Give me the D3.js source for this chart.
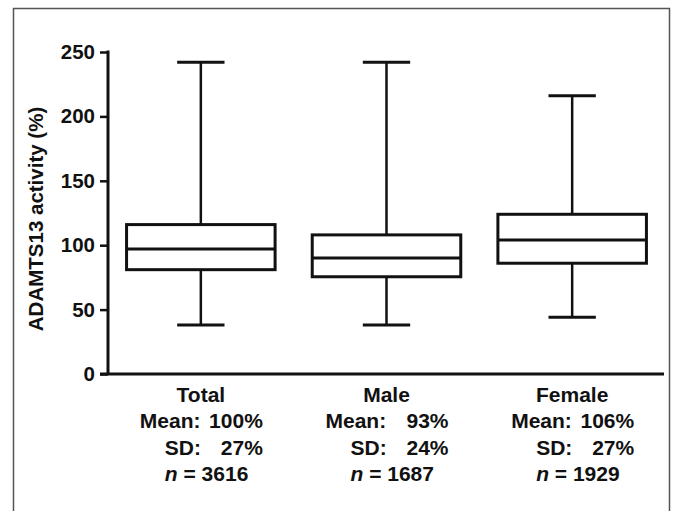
<!DOCTYPE html>
<html>
<head>
<meta charset="utf-8">
<script src="https://cdn.jsdelivr.net/npm/d3@7"></script>
<style>
  html, body { margin: 0; padding: 0; background: #fff; }
  svg { display: block; }
  text { font-family: "Liberation Sans", Arial, Helvetica, sans-serif; font-weight: bold; fill: #111; }
</style>
</head>
<body>
<svg id="chart" width="682" height="511"></svg>
<script>
// ---- data ----
const categories = ["Total", "Male", "Female"];
const whiskerHigh = [242, 242, 216];
const q3Values    = [116, 108, 124];
const medians     = [97, 90, 104];
const q1Values    = [81, 75.5, 86];
const whiskerLow  = [38, 38, 44];
const meanLabels  = ["100%", "93%", "106%"];
const sdLabels    = ["27%", "24%", "27%"];
const nLabels     = ["3616", "1687", "1929"];
const yTicks      = [0, 50, 100, 150, 200, 250];
const yLabel      = "ADAMTS13 activity (%)";

const svg = d3.select("#chart");
const ink = "#111";

// outer frame
svg.append("rect")
  .attr("x", 13.5).attr("y", 8.5)
  .attr("width", 656).attr("height", 520)
  .attr("fill", "none").attr("stroke", "#555").attr("stroke-width", 1.5);

const y = d3.scaleLinear().domain([0, 250]).range([374, 52]);
const x = d3.scaleBand().domain(categories).range([108, 665]).paddingInner(0).paddingOuter(0);

// y axis
const yAxis = d3.axisLeft(y).tickValues(yTicks).tickSize(8).tickPadding(5).tickSizeOuter(0);
const gy = svg.append("g").attr("transform", "translate(108,0)").call(yAxis);
gy.select(".domain").attr("stroke", ink).attr("stroke-width", 3)
  .attr("d", `M0,${y(250) - 1.5}V${y(0)}`);
gy.selectAll(".tick line").attr("stroke", ink).attr("stroke-width", 2.5);
gy.selectAll(".tick text").style("font-size", "20.5px").attr("fill", ink)
  .style("font-family", "'Liberation Sans', Arial, sans-serif").style("font-weight", "bold");

// x axis line
svg.append("line")
  .attr("x1", 100).attr("x2", 664)
  .attr("y1", y(0)).attr("y2", y(0))
  .attr("stroke", ink).attr("stroke-width", 3);

// y label
svg.append("text")
  .attr("transform", `translate(43,${(y(0) + y(250)) / 2 + 6}) rotate(-90)`)
  .attr("text-anchor", "middle")
  .style("font-size", "20.5px")
  .text(yLabel);

// boxes
const data = categories.map((c, i) => ({
  c, hi: whiskerHigh[i], q3: q3Values[i], med: medians[i], q1: q1Values[i], lo: whiskerLow[i]
}));
const bw = x.bandwidth();
const boxW = bw * 0.8;
const capW = bw * 0.255;

const g = svg.selectAll("g.box").data(data).join("g").attr("class", "box")
  .attr("transform", d => `translate(${x(d.c) + bw / 2},0)`);

g.append("line").attr("x1", 0).attr("x2", 0)
  .attr("y1", d => y(d.hi)).attr("y2", d => y(d.q3))
  .attr("stroke", ink).attr("stroke-width", 2.5);
g.append("line").attr("x1", 0).attr("x2", 0)
  .attr("y1", d => y(d.q1)).attr("y2", d => y(d.lo))
  .attr("stroke", ink).attr("stroke-width", 2.5);
g.append("line").attr("x1", -capW / 2).attr("x2", capW / 2)
  .attr("y1", d => y(d.hi)).attr("y2", d => y(d.hi))
  .attr("stroke", ink).attr("stroke-width", 3);
g.append("line").attr("x1", -capW / 2).attr("x2", capW / 2)
  .attr("y1", d => y(d.lo)).attr("y2", d => y(d.lo))
  .attr("stroke", ink).attr("stroke-width", 3);
g.append("rect")
  .attr("x", -boxW / 2).attr("width", boxW)
  .attr("y", d => y(d.q3)).attr("height", d => y(d.q1) - y(d.q3))
  .attr("fill", "#fff").attr("stroke", ink).attr("stroke-width", 3);
g.append("line").attr("x1", -boxW / 2).attr("x2", boxW / 2)
  .attr("y1", d => y(d.med)).attr("y2", d => y(d.med))
  .attr("stroke", ink).attr("stroke-width", 3);

// category labels with stats
const lab = svg.selectAll("g.lab").data(categories).join("g").attr("class", "lab")
  .attr("transform", d => `translate(${x(d) + bw / 2},0)`);
const fs = "21px";
lab.append("text").attr("text-anchor", "middle").attr("y", 402).style("font-size", fs).text(d => d);
lab.append("text").attr("text-anchor", "start").attr("x", -61).attr("y", 428).style("font-size", fs).text("Mean:");
lab.append("text").attr("text-anchor", "end").attr("x", 62).attr("y", 428).style("font-size", fs).text((d, i) => meanLabels[i]);
lab.append("text").attr("text-anchor", "start").attr("x", -36).attr("y", 455).style("font-size", fs).text("SD:");
lab.append("text").attr("text-anchor", "end").attr("x", 62).attr("y", 455).style("font-size", fs).text((d, i) => sdLabels[i]);
const nt = lab.append("text").attr("text-anchor", "start").attr("x", -36).attr("y", 481).style("font-size", fs);
nt.append("tspan").style("font-style", "italic").text("n");
nt.append("tspan").text((d, i) => " = " + nLabels[i]);
</script>
</body>
</html>
